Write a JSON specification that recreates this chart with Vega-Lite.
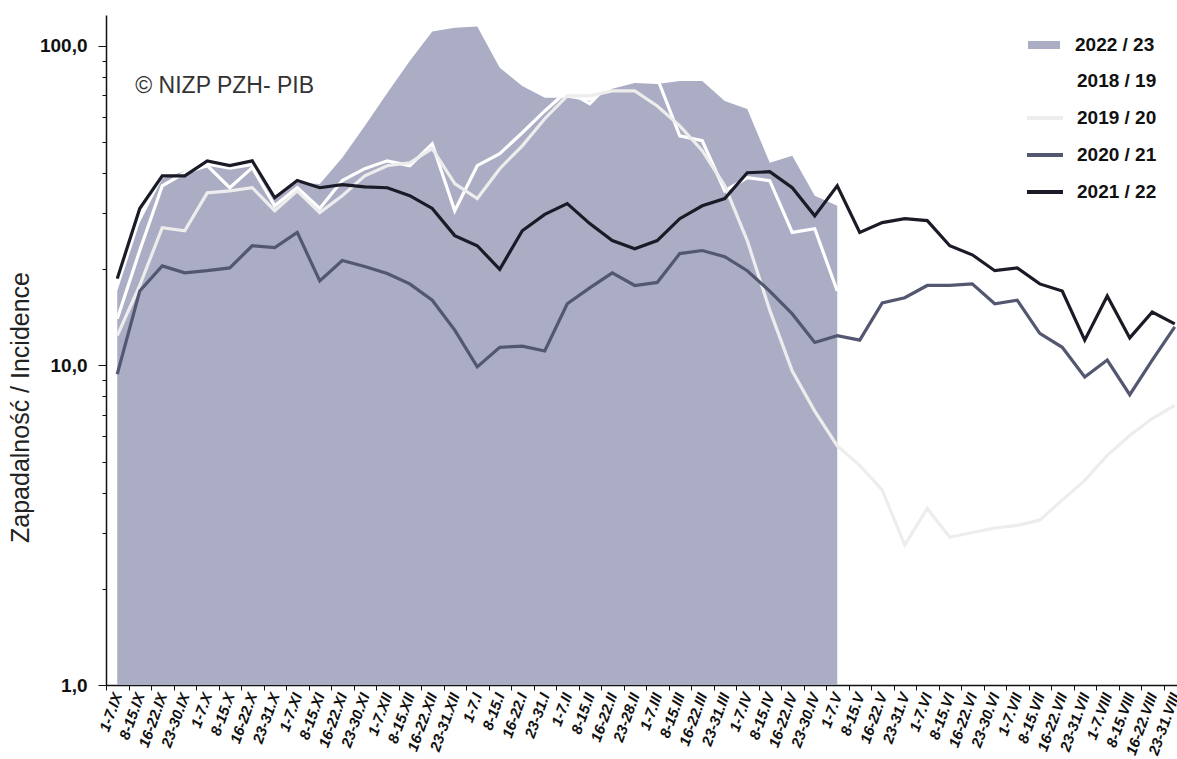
{
  "$schema": "https://vega.github.io/schema/vega-lite/v6.json",
  "width": 1071,
  "height": 670,
  "autosize": {"type": "none"},
  "padding": {"left": 106, "top": 15, "right": 0, "bottom": 74},
  "background": "white",
  "config": {"view": {"stroke": null}, "font": "Liberation Sans"},
  "data": {"values": [
    {"week": "1-7.IX", "2022 / 23": 17.1, "2018 / 19": 14, "2019 / 20": 12.4, "2020 / 21": 9.4, "2021 / 22": 18.7},
    {"week": "8-15.IX", "2022 / 23": 28, "2018 / 19": 22.9, "2019 / 20": 17.8, "2020 / 21": 17.1, "2021 / 22": 31},
    {"week": "16-22.IX", "2022 / 23": 38.4, "2018 / 19": 36.5, "2019 / 20": 27, "2020 / 21": 20.5, "2021 / 22": 39.2},
    {"week": "23-30.IX", "2022 / 23": 40.6, "2018 / 19": 40.1, "2019 / 20": 26.4, "2020 / 21": 19.5, "2021 / 22": 39.2},
    {"week": "1-7.X", "2022 / 23": 42.2, "2018 / 19": 42.2, "2019 / 20": 34.7, "2020 / 21": 19.8, "2021 / 22": 43.7},
    {"week": "8-15.X", "2022 / 23": 41, "2018 / 19": 36, "2019 / 20": 35.2, "2020 / 21": 20.2, "2021 / 22": 42.2},
    {"week": "16-22.X", "2022 / 23": 42, "2018 / 19": 41.6, "2019 / 20": 36, "2020 / 21": 23.7, "2021 / 22": 43.7},
    {"week": "23-31.X", "2022 / 23": 34, "2018 / 19": 31.6, "2019 / 20": 30.5, "2020 / 21": 23.4, "2021 / 22": 33.5},
    {"week": "1-7.XI", "2022 / 23": 37.3, "2018 / 19": 36, "2019 / 20": 35.2, "2020 / 21": 26.1, "2021 / 22": 37.9},
    {"week": "8-15.XI", "2022 / 23": 37, "2018 / 19": 31, "2019 / 20": 30.1, "2020 / 21": 18.4, "2021 / 22": 36},
    {"week": "16-22.XI", "2022 / 23": 44.7, "2018 / 19": 37.9, "2019 / 20": 34, "2020 / 21": 21.3, "2021 / 22": 36.8},
    {"week": "23-30.XI", "2022 / 23": 56.2, "2018 / 19": 41.3, "2019 / 20": 39.2, "2020 / 21": 20.4, "2021 / 22": 36.2},
    {"week": "1-7.XII", "2022 / 23": 71.3, "2018 / 19": 43.7, "2019 / 20": 42.2, "2020 / 21": 19.4, "2021 / 22": 36},
    {"week": "8-15.XII", "2022 / 23": 89.8, "2018 / 19": 42.2, "2019 / 20": 43.1, "2020 / 21": 18, "2021 / 22": 34},
    {"week": "16-22.XII", "2022 / 23": 111, "2018 / 19": 49.4, "2019 / 20": 47.7, "2020 / 21": 16, "2021 / 22": 31},
    {"week": "23-31.XII", "2022 / 23": 114, "2018 / 19": 30.5, "2019 / 20": 37.1, "2020 / 21": 12.9, "2021 / 22": 25.5},
    {"week": "1-7.I", "2022 / 23": 115, "2018 / 19": 42.2, "2019 / 20": 33.3, "2020 / 21": 9.9, "2021 / 22": 23.7},
    {"week": "8-15.I", "2022 / 23": 85.4, "2018 / 19": 46, "2019 / 20": 41.3, "2020 / 21": 11.4, "2021 / 22": 20},
    {"week": "16-22.I", "2022 / 23": 75, "2018 / 19": 53.5, "2019 / 20": 48.7, "2020 / 21": 11.5, "2021 / 22": 26.4},
    {"week": "23-31.I", "2022 / 23": 68.8, "2018 / 19": 62.6, "2019 / 20": 59.2, "2020 / 21": 11.1, "2021 / 22": 29.7},
    {"week": "1-7.II", "2022 / 23": 68.8, "2018 / 19": 72.3, "2019 / 20": 69.8, "2020 / 21": 15.6, "2021 / 22": 32.1},
    {"week": "8-15.II", "2022 / 23": 67.3, "2018 / 19": 65.9, "2019 / 20": 69.8, "2020 / 21": 17.5, "2021 / 22": 27.8},
    {"week": "16-22.II", "2022 / 23": 73.5, "2018 / 19": 77.7, "2019 / 20": 72.3, "2020 / 21": 19.5, "2021 / 22": 24.6},
    {"week": "23-28.II", "2022 / 23": 76.6, "2018 / 19": 80.6, "2019 / 20": 72.3, "2020 / 21": 17.8, "2021 / 22": 23.2},
    {"week": "1-7.III", "2022 / 23": 76, "2018 / 19": 79.4, "2019 / 20": 64.9, "2020 / 21": 18.2, "2021 / 22": 24.6},
    {"week": "8-15.III", "2022 / 23": 77.7, "2018 / 19": 52.3, "2019 / 20": 56.2, "2020 / 21": 22.4, "2021 / 22": 28.8},
    {"week": "16-22.III", "2022 / 23": 77.7, "2018 / 19": 50.5, "2019 / 20": 47, "2020 / 21": 22.9, "2021 / 22": 31.6},
    {"week": "23-31.III", "2022 / 23": 67.3, "2018 / 19": 35.2, "2019 / 20": 36.5, "2020 / 21": 21.9, "2021 / 22": 33.3},
    {"week": "1-7.IV", "2022 / 23": 63.5, "2018 / 19": 38.7, "2019 / 20": 24.6, "2020 / 21": 19.8, "2021 / 22": 40.1},
    {"week": "8-15.IV", "2022 / 23": 43.1, "2018 / 19": 37.9, "2019 / 20": 14.9, "2020 / 21": 17.1, "2021 / 22": 40.4},
    {"week": "16-22.IV", "2022 / 23": 45.3, "2018 / 19": 26.1, "2019 / 20": 9.6, "2020 / 21": 14.5, "2021 / 22": 36},
    {"week": "23-30.IV", "2022 / 23": 34, "2018 / 19": 26.8, "2019 / 20": 7.2, "2020 / 21": 11.8, "2021 / 22": 29.4},
    {"week": "1-7.V", "2022 / 23": 31.6, "2018 / 19": 17.1, "2019 / 20": 5.6, "2020 / 21": 12.4, "2021 / 22": 36.5},
    {"week": "8-15.V", "2019 / 20": 4.87, "2020 / 21": 12, "2021 / 22": 26.1},
    {"week": "16-22.V", "2019 / 20": 4.07, "2020 / 21": 15.7, "2021 / 22": 28},
    {"week": "23-31.V", "2019 / 20": 2.74, "2020 / 21": 16.3, "2021 / 22": 28.8},
    {"week": "1-7.VI", "2019 / 20": 3.57, "2020 / 21": 17.8, "2021 / 22": 28.4},
    {"week": "8-15.VI", "2019 / 20": 2.9, "2020 / 21": 17.8, "2021 / 22": 23.7},
    {"week": "16-22.VI", "2019 / 20": 3.0, "2020 / 21": 18, "2021 / 22": 22.2},
    {"week": "23-30.VI", "2019 / 20": 3.1, "2020 / 21": 15.6, "2021 / 22": 19.8},
    {"week": "1-7.VII", "2019 / 20": 3.16, "2020 / 21": 16, "2021 / 22": 20.2},
    {"week": "8-15.VII", "2019 / 20": 3.28, "2020 / 21": 12.6, "2021 / 22": 18},
    {"week": "16-22.VII", "2019 / 20": 3.79, "2020 / 21": 11.4, "2021 / 22": 17.1},
    {"week": "23-31.VII", "2019 / 20": 4.37, "2020 / 21": 9.2, "2021 / 22": 12},
    {"week": "1-7.VIII", "2019 / 20": 5.23, "2020 / 21": 10.4, "2021 / 22": 16.5},
    {"week": "8-15.VIII", "2019 / 20": 6.04, "2020 / 21": 8.1, "2021 / 22": 12.2},
    {"week": "16-22.VIII", "2019 / 20": 6.82, "2020 / 21": 10.4, "2021 / 22": 14.7},
    {"week": "23-31.VIII", "2019 / 20": 7.5, "2020 / 21": 13.2, "2021 / 22": 13.5}
  ]},
  "encoding": {
    "x": {
      "field": "week", "type": "ordinal", "bandPosition": 0.5,
      "scale": {"type": "band", "range": [0, 1080], "paddingInner": 0, "paddingOuter": 0,
        "domain": ["1-7.IX","8-15.IX","16-22.IX","23-30.IX","1-7.X","8-15.X","16-22.X","23-31.X","1-7.XI","8-15.XI","16-22.XI","23-30.XI","1-7.XII","8-15.XII","16-22.XII","23-31.XII","1-7.I","8-15.I","16-22.I","23-31.I","1-7.II","8-15.II","16-22.II","23-28.II","1-7.III","8-15.III","16-22.III","23-31.III","1-7.IV","8-15.IV","16-22.IV","23-30.IV","1-7.V","8-15.V","16-22.V","23-31.V","1-7.VI","8-15.VI","16-22.VI","23-30.VI","1-7.VII","8-15.VII","16-22.VII","23-31.VII","1-7.VIII","8-15.VIII","16-22.VIII","23-31.VIII"]},
      "axis": {"title": null, "tickBand": "extent", "labelAngle": -70, "labelAlign": "right", "labelBaseline": "middle",
        "labelFontSize": 15, "labelFontStyle": "italic", "labelFontWeight": "bold", "labelColor": "#111",
        "labelPadding": 3, "tickSize": 5, "domainColor": "#111", "domainWidth": 1.5, "tickColor": "#111",
        "labelOverlap": false, "grid": false}
    },
    "y": {
      "field": "value", "type": "quantitative",
      "scale": {"type": "log", "domain": [1, 125], "nice": false},
      "axis": {"title": "Zapadalność  /  Incidence", "titleFontSize": 25, "titleFontWeight": "normal", "titleColor": "#222",
        "titleX": -86, "titleY": 392, "titleAngle": -90, "titleAlign": "center", "titleBaseline": "middle",
        "values": [1,2,3,4,5,6,7,8,9,10,20,30,40,50,60,70,80,90,100],
        "labelExpr": "datum.value == 1 ? '1,0' : datum.value == 10 ? '10,0' : datum.value == 100 ? '100,0' : ''",
        "labelOverlap": false, "labelFontSize": 19, "labelFontWeight": "bold", "labelColor": "#111", "labelPadding": 11,
        "tickSize": {"condition": {"test": "datum.value == 1 || datum.value == 10 || datum.value == 100", "value": 8}, "value": 4},
        "domainColor": "#111", "domainWidth": 1.5, "tickColor": "#111", "grid": false}
    }
  },
  "layer": [
    {
      "transform": [
        {"fold": ["2022 / 23","2018 / 19","2019 / 20","2020 / 21","2021 / 22"], "as": ["season", "value"]},
        {"filter": "isValid(datum.value) && datum.season == '2022 / 23'"}
      ],
      "mark": {"type": "area", "opacity": 1, "interpolate": "linear"},
      "encoding": {
        "y2": {"datum": 1},
        "fill": {"field": "season", "type": "nominal",
          "scale": {"domain": ["2022 / 23"], "range": ["#aaadc4"]},
          "legend": {"orient": "none", "legendX": 921, "legendY": 13, "title": null, "padding": 0,
            "symbolType": "M-1,-0.25L1,-0.25L1,0.25L-1,0.25Z", "symbolSize": 1024,
            "labelFontSize": 19, "labelFontWeight": "bold", "labelColor": "#111", "labelOffset": 14}}
      }
    },
    {
      "transform": [
        {"fold": ["2022 / 23","2018 / 19","2019 / 20","2020 / 21","2021 / 22"], "as": ["season", "value"]},
        {"filter": "isValid(datum.value) && datum.season != '2022 / 23'"}
      ],
      "mark": {"type": "line", "strokeWidth": 3.2, "interpolate": "linear"},
      "encoding": {
        "stroke": {"field": "season", "type": "nominal",
          "scale": {"domain": ["2018 / 19","2019 / 20","2020 / 21","2021 / 22"], "range": ["#ffffff","#ededed","#535770","#1a1b26"]},
          "legend": {"orient": "none", "legendX": 919, "legendY": 46, "title": null, "padding": 0, "rowPadding": 7,
            "symbolType": "stroke", "symbolSize": 1296, "symbolStrokeWidth": 4,
            "labelFontSize": 19, "labelFontWeight": "bold", "labelColor": "#111", "labelOffset": 12}}
      }
    },
    {
      "data": {"values": [{"week": "1-7.IX", "value": 75, "t": "© NIZP PZH- PIB"}]},
      "mark": {"type": "text", "align": "left", "baseline": "middle", "dx": 18, "fontSize": 23, "color": "#333"},
      "encoding": {"text": {"field": "t"}}
    }
  ]
}
